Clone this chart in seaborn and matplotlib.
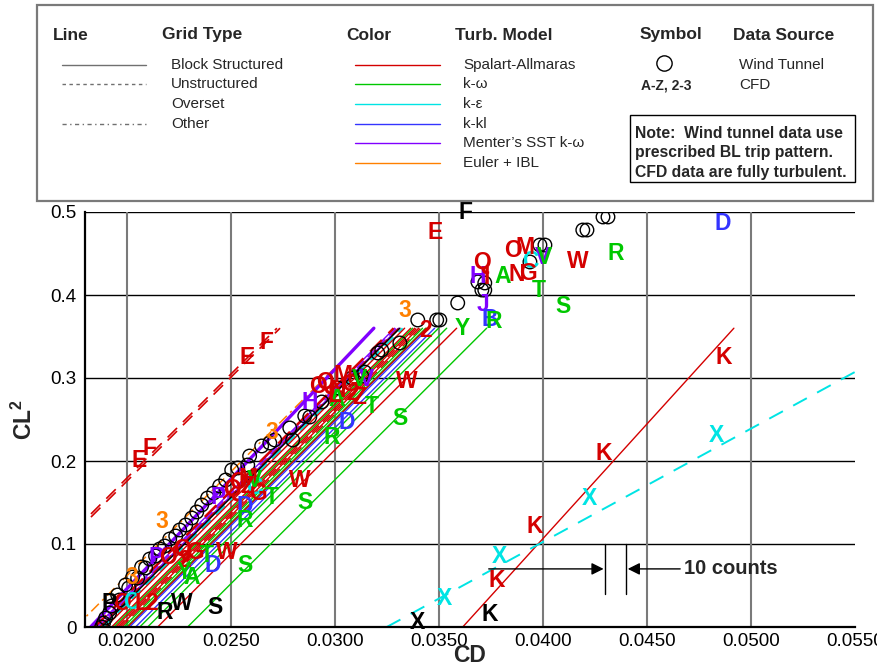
import numpy as np
import pandas as pd
import matplotlib
matplotlib.use("Agg")
import matplotlib.pyplot as plt
from matplotlib.patches import Rectangle
import seaborn as sns

# ---------------------------------------------------------------- data
# Wind tunnel polars (two runs): CD and CL^2
wt1_cd = [0.01880, 0.01899, 0.01928, 0.01957, 0.01995, 0.02029, 0.02072, 0.02111,
          0.02159, 0.02207, 0.02255, 0.02313, 0.02361, 0.02418, 0.02476, 0.02534,
          0.02591, 0.02649, 0.02712, 0.02784, 0.02856, 0.02938, 0.03014, 0.03082,
          0.03144, 0.03207, 0.03313, 0.03399, 0.03490, 0.03591, 0.03688, 0.03721,
          0.03938, 0.04010, 0.04212, 0.04313]
wt1_cl2 = [0.0000, 0.0108, 0.0253, 0.0386, 0.0506, 0.0602, 0.0723, 0.0819,
           0.0940, 0.1060, 0.1169, 0.1313, 0.1470, 0.1614, 0.1771, 0.1916,
           0.2060, 0.2181, 0.2253, 0.2398, 0.2542, 0.2711, 0.2880, 0.3000,
           0.3072, 0.3301, 0.3422, 0.3699, 0.3699, 0.3904, 0.4157, 0.4060,
           0.4398, 0.4602, 0.4783, 0.4940]
wt2_cd = [0.01889, 0.01918, 0.01966, 0.02010, 0.02053, 0.02091, 0.02139, 0.02183,
          0.02236, 0.02284, 0.02337, 0.02389, 0.02447, 0.02505, 0.02582, 0.02688,
          0.02798, 0.02880, 0.03130, 0.03226, 0.03505, 0.03707, 0.03721, 0.03986,
          0.04192, 0.04289]
wt2_cl2 = [0.0048, 0.0169, 0.0325, 0.0470, 0.0590, 0.0711, 0.0855, 0.0976,
           0.1096, 0.1229, 0.1386, 0.1554, 0.1699, 0.1892, 0.1952, 0.2217,
           0.2253, 0.2530, 0.3024, 0.3337, 0.3699, 0.4060, 0.4145, 0.4602,
           0.4783, 0.4940]
# linear fit through the wind tunnel data
wt_fit_cd = [0.01880, 0.03313]
wt_fit_cl2 = [0.0, 0.36]

# CFD solutions: linear-fit end points (CD at CL^2 = 0 and CL^2 = 0.36)
fit_ids = ["3", "P", "J", "H", "V2", "O", "Q", "C", "M", "N", "A", "G", "I", "2",
           "L", "V", "Y", "Z", "B", "D", "R", "T", "W", "S", "E", "F", "K", "X"]
fit_cd0 = [0.01755, 0.01827, 0.01851, 0.01870, 0.01860, 0.01846, 0.01870, 0.01889,
           0.01899, 0.01928, 0.01938, 0.01947, 0.01957, 0.01966, 0.01976, 0.01986,
           0.02000, 0.02005, 0.02014, 0.02043, 0.02063, 0.02101, 0.02149, 0.02293,
           0.01285, 0.01300, 0.03615, 0.03250]
fit_cd1 = [0.03191, 0.03188, 0.03288, 0.03307, 0.03297, 0.03283, 0.03307, 0.03326,
           0.03336, 0.03365, 0.03374, 0.03384, 0.03393, 0.03403, 0.03413, 0.03422,
           0.03437, 0.03441, 0.03451, 0.03480, 0.03499, 0.03538, 0.03586, 0.03730,
           0.02722, 0.02737, 0.04918, 0.05886]
fit_cl2_0 = 0.0
fit_cl2_1 = 0.36

# CFD data points for each solution
cd_3 = [0.02024, 0.02168, 0.02697, 0.03337]; cl2_3 = [0.0602, 0.1277, 0.2349, 0.3819]
cd_P = [0.02144, 0.02438]; cl2_P = [0.0843, 0.1566]
cd_J = [0.03712]; cl2_J = [0.3880]
cd_H = [0.02880, 0.03688]; cl2_H = [0.2699, 0.4217]
cd_V2 = [0.03154, 0.04000]; cl2_V2 = [0.2976, 0.4446]
cd_O = [0.01976, 0.02197, 0.02534, 0.02918, 0.03856]; cl2_O = [0.0289, 0.0843, 0.1735, 0.2892, 0.4542]
cd_Q = [0.02264, 0.02505, 0.02952, 0.03707]; cl2_Q = [0.0928, 0.1651, 0.2940, 0.4386]
cd_C = [0.02024, 0.02615, 0.03938]; cl2_C = [0.0301, 0.1675, 0.4398]
cd_M = [0.02582, 0.03039, 0.03914]; cl2_M = [0.1795, 0.3036, 0.4578]
cd_N = [0.03015, 0.03875]; cl2_N = [0.2855, 0.4241]
cd_A = [0.02313, 0.03010, 0.03808]; cl2_A = [0.0602, 0.2735, 0.4217]
cd_G = [0.02327, 0.02630, 0.03072, 0.03928]; cl2_G = [0.0892, 0.1614, 0.2916, 0.4265]
cd_I = [0.03731]; cl2_I = [0.4205]
cd_2 = [0.02120, 0.02279, 0.03087, 0.03438]; cl2_2 = [0.0289, 0.0807, 0.2819, 0.3578]
cd_L = [0.02072, 0.03000]; cl2_L = [0.0289, 0.2795]
cd_V = [0.02615, 0.03120, 0.04010]; cl2_V = [0.1771, 0.2976, 0.4446]
cd_Y = [0.02279, 0.03611]; cl2_Y = [0.0651, 0.3602]
cd_Z = [0.02582, 0.03120]; cl2_Z = [0.1687, 0.2771]
cd_B = [0.03745]; cl2_B = [0.3699]
cd_D = [0.02414, 0.02567, 0.03058, 0.04866]; cl2_D = [0.0735, 0.1446, 0.2458, 0.4867]
cd_R = [0.02567, 0.02986, 0.03765, 0.04351]; cl2_R = [0.1289, 0.2289, 0.3675, 0.4506]
cd_T = [0.02385, 0.02697, 0.03178, 0.03981]; cl2_T = [0.0867, 0.1566, 0.2651, 0.4060]
cd_W = [0.02481, 0.02832, 0.03346, 0.04168]; cl2_W = [0.0892, 0.1771, 0.2952, 0.4398]
cd_S = [0.02567, 0.02856, 0.03313, 0.04096]; cl2_S = [0.0735, 0.1494, 0.2518, 0.3867]
cd_E = [0.02058, 0.02577, 0.03481]; cl2_E = [0.2012, 0.3253, 0.4759]
cd_F = [0.02111, 0.02673]; cl2_F = [0.2145, 0.3422]
cd_K = [0.03779, 0.03962, 0.04293, 0.04870]; cl2_K = [0.0566, 0.1205, 0.2096, 0.3241]
cd_X = [0.03529, 0.03793, 0.04226, 0.04832]; cl2_X = [0.0349, 0.0855, 0.1554, 0.2313]

# points from solutions shown in black
blk_txt = ["P", "R", "W", "S", "X", "K", "F"]
blk_cd = [0.01918, 0.02183, 0.02264, 0.02423, 0.03399, 0.03745, 0.03630]
blk_cl2 = [0.0289, 0.0169, 0.0289, 0.0229, 0.0060, 0.0145, 0.4988]

# ten drag counts reference bracket
counts_cd = [0.0430, 0.0440]
counts_cl2 = [0.040, 0.100]
counts_arrow_cl2 = 0.070

# axis ticks
xticks = [0.0200, 0.0250, 0.0300, 0.0350, 0.0400, 0.0450, 0.0500, 0.0550]
yticks = [0.0, 0.1, 0.2, 0.3, 0.4, 0.5]
ytick_labels = ["0", "0.1", "0.2", "0.3", "0.4", "0.5"]

# ---------------------------------------------------------------- styles
RED, GREEN, CYAN = "#d40000", "#00c800", "#00e4e4"
BLUE, PURPLE, ORANGE = "#3434ff", "#8000ff", "#ff8000"
SOLID = "-"
UNSTR = (0, (7, 4))
OTHER = (0, (7, 3, 1.5, 3))

styles = {
    "3": (ORANGE, OTHER, 1.1), "P": (PURPLE, SOLID, 2.4), "J": (PURPLE, SOLID, 1.0),
    "H": (PURPLE, SOLID, 1.0), "V2": (PURPLE, UNSTR, 1.0), "O": (RED, UNSTR, 1.7),
    "Q": (RED, UNSTR, 1.0), "C": (CYAN, UNSTR, 1.3), "M": (RED, SOLID, 1.0),
    "N": (RED, SOLID, 1.0), "A": (GREEN, SOLID, 1.0), "G": (RED, SOLID, 1.0),
    "I": (RED, UNSTR, 1.0), "2": (RED, SOLID, 1.0), "L": (RED, UNSTR, 1.0),
    "V": (GREEN, SOLID, 1.0), "Y": (GREEN, SOLID, 1.0), "Z": (RED, SOLID, 1.0),
    "B": (BLUE, SOLID, 1.0), "D": (BLUE, SOLID, 1.0), "R": (GREEN, SOLID, 1.0),
    "T": (GREEN, SOLID, 1.0), "W": (RED, SOLID, 1.0), "S": (GREEN, SOLID, 1.0),
    "E": (RED, (0, (8, 5)), 1.2), "F": (RED, (0, (8, 5)), 1.2),
    "K": (RED, SOLID, 1.0), "X": (CYAN, (0, (8, 6)), 1.4),
}

points = {k: (globals()["cd_" + k], globals()["cl2_" + k]) for k in fit_ids}

# ---------------------------------------------------------------- figure
sns.set_style("white")
plt.rcParams["font.family"] = ["Liberation Sans", "DejaVu Sans"]
plt.rcParams["mathtext.fontset"] = "custom"
plt.rcParams["mathtext.rm"] = "Liberation Sans"
plt.rcParams["mathtext.bf"] = "Liberation Sans:bold"

W, H = 878, 669
fig = plt.figure(figsize=(W / 100, H / 100), dpi=100)
ax = fig.add_axes([85 / W, 1 - 627 / H, (855 - 85) / W, (627 - 212) / H])
ax.set_xlim(0.0180, 0.0550)
ax.set_ylim(0.0, 0.5)

# grid: black horizontal, grey vertical
for y in yticks[1:]:
    ax.axhline(y, color="black", lw=1.0, zorder=1)
for x in xticks[:-1]:
    ax.axvline(x, color="#7a7a7a", lw=1.5, zorder=1)

# CFD linear fits
for k, c0, c1 in zip(fit_ids, fit_cd0, fit_cd1):
    col, ls, lw = styles[k]
    sns.lineplot(x=[c0, c1], y=[fit_cl2_0, fit_cl2_1], ax=ax, color=col,
                 linestyle=ls, linewidth=lw, estimator=None, sort=False,
                 legend=False, zorder=2)
sns.lineplot(x=wt_fit_cd, y=wt_fit_cl2, ax=ax, color="black", linewidth=1.1,
             estimator=None, sort=False, legend=False, zorder=2)

# wind tunnel symbols
for xs, ys in ((wt1_cd, wt1_cl2), (wt2_cd, wt2_cl2)):
    sns.scatterplot(x=xs, y=ys, ax=ax, marker="o", s=95, facecolor="none",
                    edgecolor="black", linewidth=1.0, zorder=3, legend=False)

# CFD letters
LETTER_SIZE = 16.5
for k in fit_ids:
    col = styles[k][0]
    xs, ys = points[k]
    for x, y in zip(xs, ys):
        ax.text(x, y, k[0], color=col, fontsize=LETTER_SIZE, fontweight="bold",
                ha="center", va="center", zorder=4, clip_on=False)
for t, x, y in zip(blk_txt, blk_cd, blk_cl2):
    ax.text(x, y, t, color="black", fontsize=LETTER_SIZE, fontweight="bold",
            ha="center", va="center", zorder=4, clip_on=False)

# 10 counts bracket
for x in counts_cd:
    ax.plot([x, x], counts_cl2, color="black", lw=1.0, zorder=5)
ax.annotate("", xy=(counts_cd[0] - 0.00008, counts_arrow_cl2),
            xytext=(0.0374, counts_arrow_cl2),
            arrowprops=dict(arrowstyle="-|>", color="black", lw=1.0,
                            mutation_scale=18, shrinkA=0, shrinkB=0))
ax.annotate("", xy=(counts_cd[1] + 0.00008, counts_arrow_cl2),
            xytext=(0.0466, counts_arrow_cl2),
            arrowprops=dict(arrowstyle="-|>", color="black", lw=1.0,
                            mutation_scale=18, shrinkA=0, shrinkB=0))
ax.text(0.0468, counts_arrow_cl2, "10 counts", fontsize=14.5, fontweight="bold",
        ha="left", va="center")

# axes styling
for side in ("top", "right"):
    ax.spines[side].set_visible(False)
for side in ("left", "bottom"):
    ax.spines[side].set_color("black")
    ax.spines[side].set_linewidth(1.6)
ax.set_xticks(xticks)
ax.set_xticklabels([f"{v:.4f}" for v in xticks])
ax.set_xticks(np.arange(0.018, 0.05501, 0.001), minor=True)
ax.set_yticks(yticks)
ax.set_yticklabels(ytick_labels)
ax.set_yticks(np.arange(0.0, 0.5001, 0.02), minor=True)
ax.tick_params(which="both", direction="in", top=False, right=False,
               colors="black", width=1.0)
ax.tick_params(which="major", length=7, labelsize=13.5)
ax.tick_params(which="minor", length=4.5)
ax.tick_params(axis="x", which="major", pad=4)
ax.tick_params(axis="y", which="major", pad=6)
ax.set_xlabel("CD", fontsize=16.5, fontweight="bold", labelpad=-4)
ax.set_ylabel(r"$\mathbf{CL^2}$", fontsize=16.5, labelpad=10)

# ---------------------------------------------------------------- key panel
lg = fig.add_axes([0, 0, 1, 1])
lg.set_xlim(0, W)
lg.set_ylim(H, 0)
lg.axis("off")
lg.patch.set_visible(False)
lg.add_patch(Rectangle((37, 5), 836, 196, fill=False, ec="#7a7a7a", lw=1.6))

head = dict(fontsize=12.5, fontweight="bold", va="center", ha="left")
for x, t in ((53, "Line"), (162, "Grid Type"), (346, "Color"),
             (455, "Turb. Model"), (640, "Symbol"), (733, "Data Source")):
    lg.text(x, 35, t, **head)

body = dict(fontsize=11, va="center", ha="left")
for y, ls in ((65, "-"), (84, (0, (2.5, 2.5))), (124, (0, (3, 2.5, 1, 2.5)))):
    lg.plot([62, 146], [y, y], color="#707070", lw=1.0, linestyle=ls)
for y, t in ((65, "Block Structured"), (84, "Unstructured"),
             (104, "Overset"), (124, "Other")):
    lg.text(171, y, t, **body)

for y, col in zip((65, 84, 104, 124, 143, 163),
                  (RED, GREEN, CYAN, BLUE, PURPLE, ORANGE)):
    lg.plot([355, 440], [y, y], color=col, lw=1.0)
for y, t in zip((65, 84, 104, 124, 143, 163),
                ("Spalart-Allmaras", "k-ω", "k-ε", "k-kl",
                 "Menter’s SST k-ω", "Euler + IBL")):
    lg.text(463, y, t, **body)

lg.plot([664], [63], marker="o", ms=11, mfc="none", mec="black", mew=1.0)
lg.text(666, 85, "A-Z, 2-3", fontsize=10, fontweight="bold", ha="center",
        va="center")
lg.text(739, 65, "Wind Tunnel", **body)
lg.text(739, 85, "CFD", **body)

lg.add_patch(Rectangle((630, 115), 225, 67, fill=False, ec="black", lw=1.0))
for y, t in ((133, "Note:  Wind tunnel data use"),
             (153, "prescribed BL trip pattern."),
             (173, "CFD data are fully turbulent.")):
    lg.text(635, y, t, fontsize=11.3, fontweight="bold", va="center", ha="left")

fig.savefig("out.png", dpi=100)
